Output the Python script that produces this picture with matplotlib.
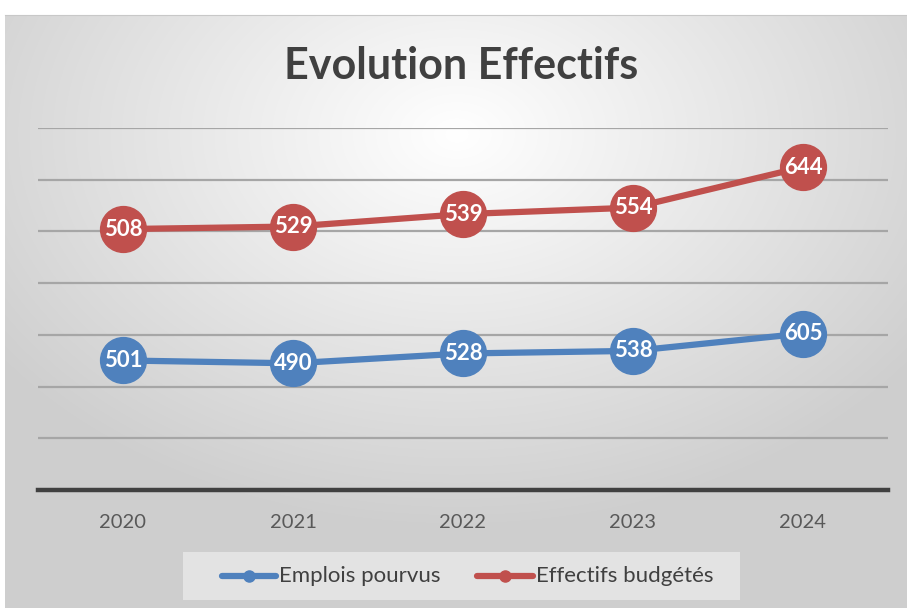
import numpy as np
import matplotlib
matplotlib.use("Agg")
import matplotlib.pyplot as plt

years = ["2020", "2021", "2022", "2023", "2024"]
emplois = [501, 490, 528, 538, 605]
budgetes = [508, 529, 539, 554, 644]
series_names = ["Emplois pourvus", "Effectifs budgétés"]
colors = ["#4f81bd", "#c0504d"]

W, H = 907, 608
fig = plt.figure(figsize=(W / 100, H / 100), dpi=100, facecolor="white")

# background radial gradient (chart area)
bx0, by0, bx1, by1 = 5, 15, 907, 608
bg = fig.add_axes([bx0 / W, 1 - by1 / H, (bx1 - bx0) / W, (by1 - by0) / H])
yy, xx = np.mgrid[0:300, 0:450]
cx, cy = 225, 60
r = np.sqrt(((xx - cx) / 450) ** 2 + ((yy - cy) / 320) ** 2)
r = np.clip(r / 0.62, 0, 1)
g = 1.0 - 0.19 * r
bg.imshow(np.dstack([g, g, g]), aspect="auto", extent=[0, 1, 0, 1], interpolation="bilinear")
bg.set_xlim(0, 1); bg.set_ylim(0, 1)
for s in ["left", "right", "bottom"]:
    bg.spines[s].set_visible(False)
bg.spines["top"].set_color("#c8c8c8")
bg.set_xticks([]); bg.set_yticks([])

# plot area
px0, px1, py0, py1 = 38, 888, 128, 490
ax = fig.add_axes([px0 / W, 1 - py1 / H, (px1 - px0) / W, (py1 - py0) / H])
ax.patch.set_alpha(0)
x = np.arange(len(years))
stacked_top = [a + b for a, b in zip(emplois, budgetes)]
ax.set_xlim(-0.5, len(years) - 0.5)
ax.set_ylim(0, 1400)
for v in range(200, 1401, 200):
    ax.axhline(v, color="#a6a6a6", lw=1.6, zorder=1)
for s in ["left", "right", "top"]:
    ax.spines[s].set_visible(False)
ax.spines["bottom"].set_color("#404040")
ax.spines["bottom"].set_linewidth(3.2)
ax.set_yticks([])
ax.set_xticks(x)
ax.set_xticklabels(years, fontsize=14.5, color="#595959", family="Lato")
ax.tick_params(axis="x", length=0, pad=17)

for yvals, labels, c in [(emplois, emplois, colors[0]), (stacked_top, budgetes, colors[1])]:
    ax.plot(x, yvals, color=c, lw=4.5, solid_capstyle="round", zorder=3, clip_on=False)
    ax.plot(x, yvals, "o", color=c, ms=33, zorder=4, clip_on=False)
    for xi, yi, lab in zip(x, yvals, labels):
        ax.text(xi, yi, str(lab), ha="center", va="center", color="white",
                fontsize=16, fontweight="bold", family="Lato", zorder=5)

fig.text(461 / W, 1 - 66 / H, "Evolution Effectifs", ha="center", va="center",
         fontsize=31, fontweight="bold", color="#404040", family="Lato")

# legend box
lx0, lx1, ly0, ly1 = 183, 740, 552, 600
lb = fig.add_axes([lx0 / W, 1 - ly1 / H, (lx1 - lx0) / W, (ly1 - ly0) / H])
lb.set_facecolor("#e3e3e3")
for s in lb.spines.values():
    s.set_visible(False)
lb.set_xticks([]); lb.set_yticks([])
lb.set_xlim(lx0, lx1); lb.set_ylim(ly1, ly0)
for (hx0, hx1), name, c in zip([(222, 276), (477, 533)], series_names, colors):
    lb.plot([hx0, hx1], [576, 576], color=c, lw=4.5, solid_capstyle="round")
    lb.plot([(hx0 + hx1) / 2], [576], "o", color=c, ms=8)
    lb.text(hx1 + 3, 576, name, ha="left", va="center", fontsize=16,
            color="#404040", family="Lato")

fig.savefig("out.png", dpi=100, facecolor="white")
